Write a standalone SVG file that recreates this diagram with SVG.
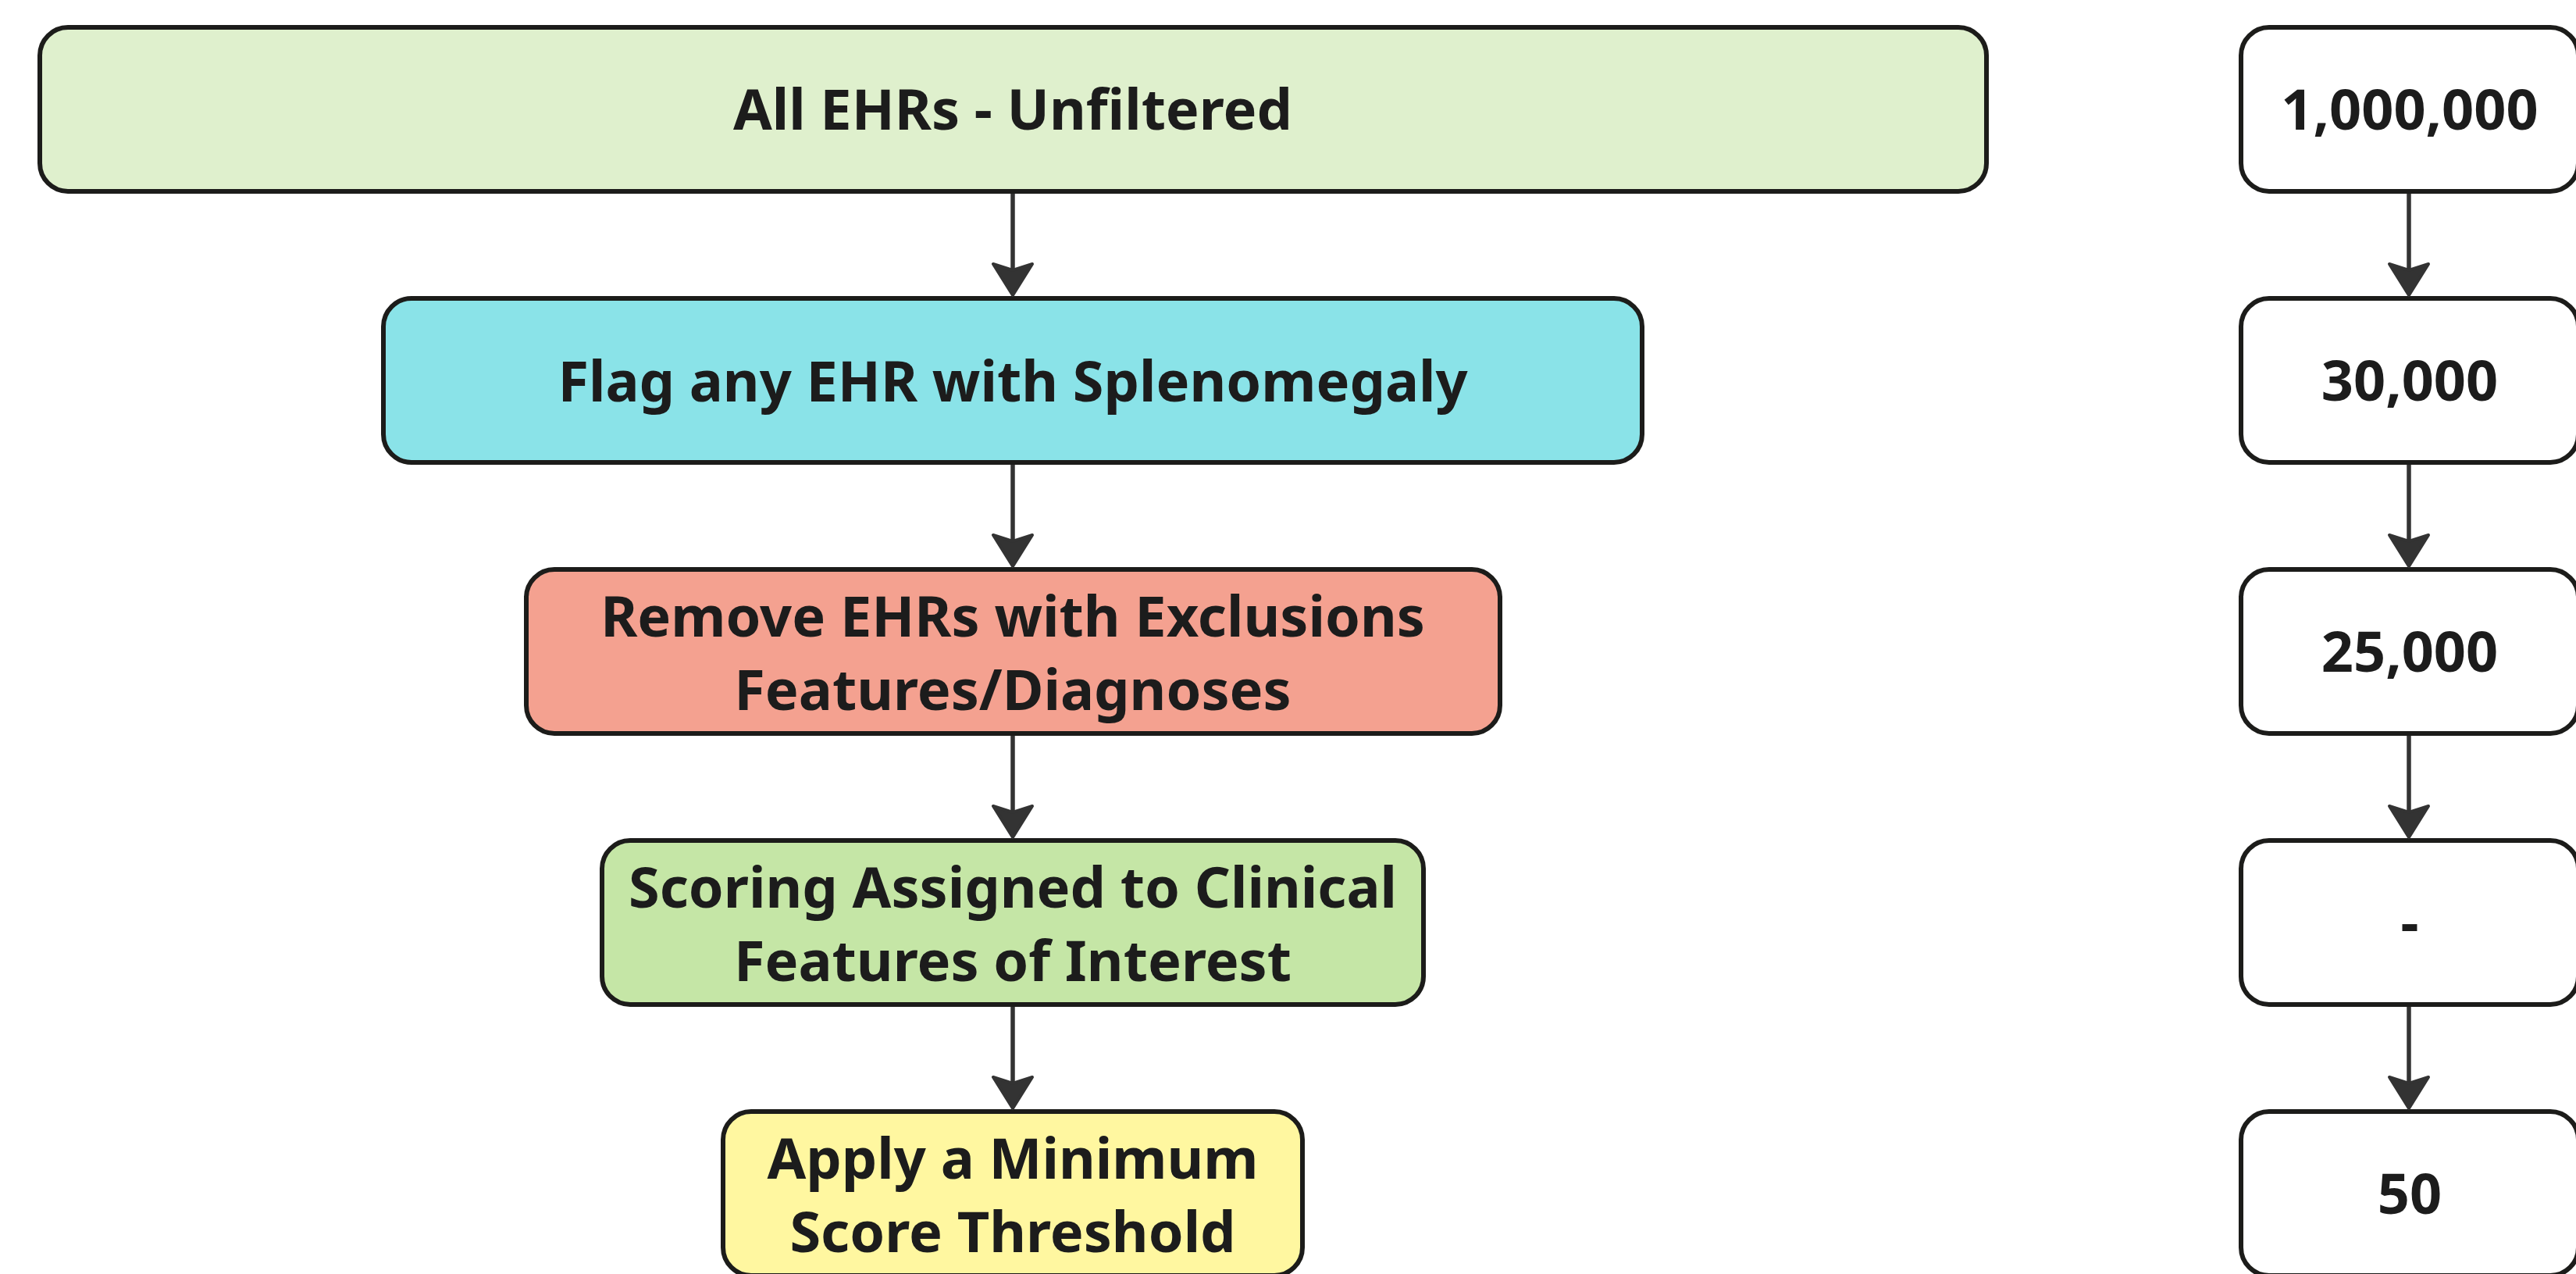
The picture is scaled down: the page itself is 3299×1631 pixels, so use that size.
<svg xmlns="http://www.w3.org/2000/svg" width="3299" height="1631" viewBox="0 0 3299 1631">
  <defs>
    <style>
      .box { stroke: #1c1c1a; stroke-width: 6; }
      .count { fill: #ffffff; stroke: #1c1c1a; stroke-width: 6; }
      .label { font-family: "Noto Sans", "Open Sans", sans-serif; font-weight: 700; font-size: 72px; fill: #1c1c1c; text-anchor: middle; }
      .link { stroke: #333333; stroke-width: 5.5; fill: none; }
      .head { fill: #333333; stroke: #333333; stroke-width: 4; stroke-linejoin: round; }
    </style>
    <!-- arrowhead pointing down, tip at origin -->
    <polygon id="tip" class="head" points="0,0 -25,-40 0,-32 25,-40"/>
  </defs>

  <rect width="3299" height="1631" fill="#ffffff"/>

  <!-- pipeline steps -->
  <g id="step-all">
    <rect class="box" x="51" y="35" width="2493" height="210" rx="36" fill="#dff0cd"/>
    <text class="label" x="1297" y="166">All EHRs - Unfiltered</text>
  </g>
  <g id="step-flag">
    <rect class="box" x="491" y="382" width="1612" height="210" rx="36" fill="#8ae3e8"/>
    <text class="label" x="1297" y="514">Flag any EHR with Splenomegaly</text>
  </g>
  <g id="step-remove">
    <rect class="box" x="674" y="729" width="1247" height="210" rx="36" fill="#f4a190"/>
    <text class="label" x="1297" y="815">Remove EHRs with Exclusions</text>
    <text class="label" x="1297" y="909">Features/Diagnoses</text>
  </g>
  <g id="step-score">
    <rect class="box" x="771" y="1076" width="1052" height="210" rx="36" fill="#c5e6a6"/>
    <text class="label" x="1297" y="1162">Scoring Assigned to Clinical</text>
    <text class="label" x="1297" y="1256">Features of Interest</text>
  </g>
  <g id="step-threshold">
    <rect class="box" x="926" y="1423" width="742" height="210" rx="36" fill="#fff7a0"/>
    <text class="label" x="1297" y="1509">Apply a Minimum</text>
    <text class="label" x="1297" y="1603">Score Threshold</text>
  </g>

  <!-- record counts -->
  <g id="count-all">
    <rect class="count" x="2870" y="35" width="432" height="210" rx="36"/>
    <text class="label" x="3086" y="166">1,000,000</text>
  </g>
  <g id="count-flag">
    <rect class="count" x="2870" y="382" width="432" height="210" rx="36"/>
    <text class="label" x="3086" y="513">30,000</text>
  </g>
  <g id="count-remove">
    <rect class="count" x="2870" y="729" width="432" height="210" rx="36"/>
    <text class="label" x="3086" y="860">25,000</text>
  </g>
  <g id="count-score">
    <rect class="count" x="2870" y="1076" width="432" height="210" rx="36"/>
    <text class="label" x="3086" y="1207">-</text>
  </g>
  <g id="count-threshold">
    <rect class="count" x="2870" y="1423" width="432" height="210" rx="36"/>
    <text class="label" x="3086" y="1554">50</text>
  </g>

  <!-- connectors -->
  <g id="connectors">
    <line class="link" x1="1297" y1="248" x2="1297" y2="350"/>
    <use href="#tip" x="1297" y="378"/>
    <line class="link" x1="1297" y1="595" x2="1297" y2="697"/>
    <use href="#tip" x="1297" y="725"/>
    <line class="link" x1="1297" y1="942" x2="1297" y2="1044"/>
    <use href="#tip" x="1297" y="1072"/>
    <line class="link" x1="1297" y1="1289" x2="1297" y2="1391"/>
    <use href="#tip" x="1297" y="1419"/>

    <line class="link" x1="3085" y1="248" x2="3085" y2="350"/>
    <use href="#tip" x="3085" y="378"/>
    <line class="link" x1="3085" y1="595" x2="3085" y2="697"/>
    <use href="#tip" x="3085" y="725"/>
    <line class="link" x1="3085" y1="942" x2="3085" y2="1044"/>
    <use href="#tip" x="3085" y="1072"/>
    <line class="link" x1="3085" y1="1289" x2="3085" y2="1391"/>
    <use href="#tip" x="3085" y="1419"/>
  </g>
</svg>
